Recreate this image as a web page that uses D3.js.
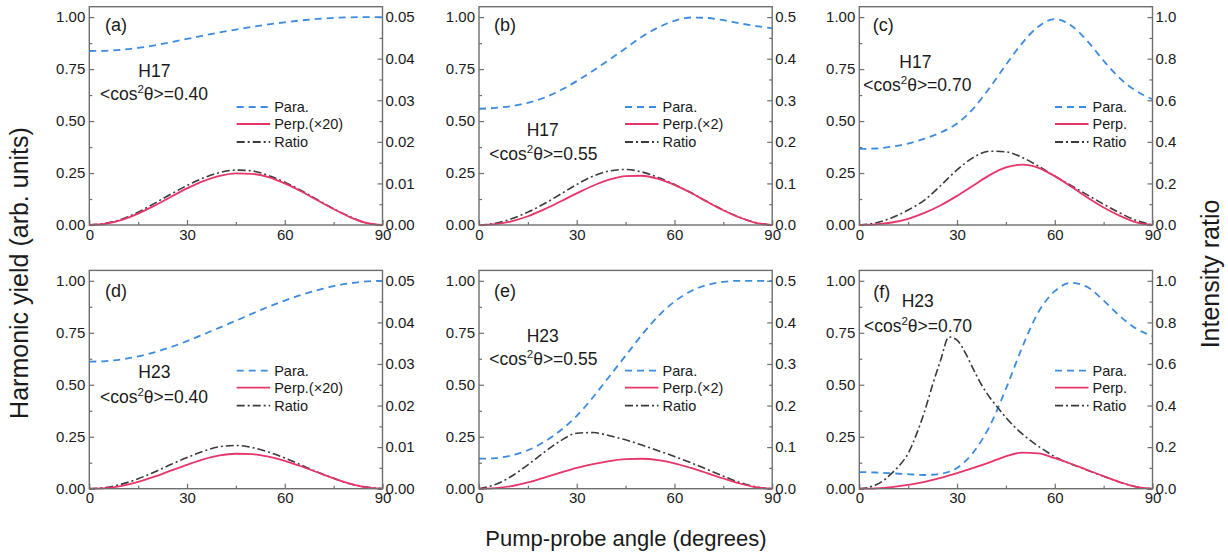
<!DOCTYPE html>
<html><head><meta charset="utf-8">
<script src="https://cdn.jsdelivr.net/npm/d3@7"></script>
<style>
body{margin:0;background:#fff}
svg{display:block}
text{font-family:"Liberation Sans",Arial,Helvetica,sans-serif;fill:#1a1a1a}
</style>
</head><body>
<svg id="chart" width="1228" height="554"></svg>
<script>
// ---------- data ----------
const angles = [0,5,10,15,20,25,30,35,40,45,50,55,60,65,70,75,80,85,90];
const anglesFine = [0,2.5,5,7.5,10,12.5,15,17.5,20,22.5,25,27.5,30,32.5,35,37.5,40,42.5,45,47.5,50,52.5,55,57.5,60,62.5,65,67.5,70,72.5,75,77.5,80,82.5,85,87.5,90];

const paraA  = [0.837,0.838,0.843,0.852,0.864,0.879,0.895,0.911,0.926,0.940,0.953,0.965,0.975,0.984,0.991,0.996,0.999,1.0,1.0];
const perpA  = [0,0.006,0.025,0.055,0.093,0.135,0.176,0.211,0.236,0.248,0.246,0.230,0.200,0.162,0.119,0.077,0.038,0.010,0];
const ratioA = [0,0.0004,0.0014,0.0031,0.0052,0.0074,0.0095,0.0113,0.0126,0.0132,0.0130,0.0119,0.0103,0.0083,0.0061,0.0039,0.0020,0.0005,0];

const paraB  = [0.559,0.563,0.572,0.588,0.612,0.648,0.692,0.742,0.795,0.850,0.905,0.950,0.982,0.998,0.996,0.985,0.970,0.957,0.946];
const perpB  = [0,0.004,0.018,0.042,0.075,0.113,0.152,0.189,0.218,0.235,0.237,0.222,0.193,0.155,0.112,0.071,0.036,0.010,0];
const ratioB = [0,0.004,0.015,0.031,0.051,0.074,0.0975,0.1175,0.130,0.1335,0.1275,0.114,0.0975,0.078,0.0565,0.036,0.0185,0.0055,0];

const paraC  = [0.366,0.368,0.377,0.392,0.415,0.445,0.488,0.56,0.66,0.77,0.875,0.955,0.99,0.96,0.885,0.79,0.705,0.645,0.605];
const perpC  = [0,0.003,0.012,0.03,0.058,0.095,0.14,0.19,0.24,0.277,0.29,0.275,0.235,0.185,0.132,0.084,0.044,0.013,0];
const ratioC = [0,0.01,0.035,0.072,0.12,0.19,0.265,0.325,0.355,0.352,0.325,0.283,0.235,0.19,0.145,0.10,0.058,0.022,0];

const paraD  = [0.611,0.614,0.622,0.636,0.656,0.681,0.71,0.742,0.775,0.808,0.842,0.875,0.905,0.932,0.955,0.974,0.988,0.997,1.0];
const perpD  = [0,0.003,0.014,0.033,0.058,0.087,0.115,0.141,0.16,0.168,0.166,0.154,0.134,0.108,0.079,0.05,0.024,0.006,0];
const ratioD = [0,0.0003,0.0011,0.0024,0.004,0.0058,0.0075,0.009,0.0101,0.0104,0.0099,0.0088,0.0074,0.0057,0.004,0.0025,0.0012,0.0004,0];

const paraE  = [0.144,0.147,0.16,0.185,0.225,0.28,0.35,0.44,0.54,0.64,0.74,0.83,0.9,0.95,0.98,0.995,1.0,1.0,1.0];
const perpE  = [0,0.003,0.012,0.03,0.053,0.077,0.1,0.118,0.133,0.142,0.144,0.137,0.122,0.1,0.075,0.049,0.025,0.007,0];
const ratioE = [0,0.01,0.03,0.0575,0.0875,0.115,0.1335,0.135,0.1275,0.1175,0.105,0.0915,0.0775,0.0625,0.0465,0.03,0.015,0.0045,0];

const paraF  = [0.08,0.078,0.074,0.07,0.066,0.072,0.1,0.175,0.3,0.48,0.68,0.85,0.95,0.99,0.97,0.905,0.83,0.77,0.735];
const perpF  = [0,0.002,0.008,0.018,0.033,0.052,0.075,0.1,0.127,0.156,0.174,0.17,0.147,0.12,0.09,0.06,0.031,0.009,0];
const ratioF = [0,0.005,0.018,0.04,0.075,0.115,0.17,0.26,0.37,0.5,0.62,0.73,0.715,0.655,0.575,0.5,0.44,0.39,0.342,0.3,0.264,0.232,0.204,0.178,0.154,0.135,0.119,0.104,0.089,0.074,0.06,0.045,0.031,0.019,0.009,0.003,0];

const panelLabels = ["(a)","(b)","(c)","(d)","(e)","(f)"];
const harmonics   = ["H17","H17","H17","H23","H23","H23"];
const alignments  = ["0.40","0.55","0.70","0.40","0.55","0.70"];
const perpNames   = ["Perp.(\u00d720)","Perp.(\u00d72)","Perp.","Perp.(\u00d720)","Perp.(\u00d72)","Perp."];
const xTicks      = [0,30,60,90];
const xMinorTicks = [15,45,75];
const leftTicks   = [0,0.25,0.5,0.75,1.0];
const leftMinor   = [0.125,0.375,0.625,0.875];
const rightMax    = [0.05,0.5,1.0,0.05,0.5,1.0];
const rightTicks  = [
  [0,0.01,0.02,0.03,0.04,0.05],[0,0.1,0.2,0.3,0.4,0.5],[0,0.2,0.4,0.6,0.8,1.0],
  [0,0.01,0.02,0.03,0.04,0.05],[0,0.1,0.2,0.3,0.4,0.5],[0,0.2,0.4,0.6,0.8,1.0]];
const rightFormats = [".2f",".1f",".1f",".2f",".1f",".1f"];
const paraSeries  = [paraA,paraB,paraC,paraD,paraE,paraF];
const perpSeries  = [perpA,perpB,perpC,perpD,perpE,perpF];
const ratioSeries = [ratioA,ratioB,ratioC,ratioD,ratioE,ratioF];
const ratioAngles = [angles,angles,angles,angles,angles,anglesFine];

// ---------- layout ----------
const colLeft = [89.3,479,859.3];
const plotW = 293.2;
const rowBase = [225,488.7];
const unitH = 207.9;
const yTop = 1.05;
const annot = [
  {lab:[15.7,-200], h:[49,-154.3], c:[10.7,-130.7], leg:147.4},
  {lab:[15,-200],   h:[47.7,-95],  c:[10.3,-70.7],  leg:146},
  {lab:[13.4,-200], h:[40,-163.3], c:[4,-140],      leg:195.7},
  {lab:[15.7,-198], h:[49,-116.4], c:[10.7,-92],    leg:147.4},
  {lab:[15,-198],   h:[47.7,-152.7],c:[10.3,-129.4],leg:146},
  {lab:[14,-197],   h:[42.4,-187.7],c:[4.7,-162.7], leg:195.7}
];
const colors = {para:"#3b8be0", perp:"#e6356a", ratio:"#3a3a3a", frame:"#6e6e6e"};
const dash = {para:"7,5", ratio:"8,3,2,3"};

const svg = d3.select("#chart");

for (let i = 0; i < 6; i++) {
  const col = i % 3, row = Math.floor(i / 3);
  const x0 = colLeft[col], y0 = rowBase[row];
  const h = unitH * yTop;
  const g = svg.append("g").attr("transform", `translate(${x0},${y0 - h})`);

  const x = d3.scaleLinear().domain([0,90]).range([0,plotW]);
  const y = d3.scaleLinear().domain([0,yTop]).range([h,0]);
  const yR = d3.scaleLinear().domain([0,rightMax[i]*yTop]).range([h,0]);

  const fs = 15;
  const styleAxis = sel => {
    sel.select(".domain").remove();
    sel.selectAll(".tick line").attr("stroke", colors.frame).attr("stroke-width",1.2);
    sel.selectAll(".tick text").attr("font-size", fs).attr("fill","#1a1a1a")
       .attr("font-family","'Liberation Sans',Arial,sans-serif");
  };
  g.append("g").attr("transform",`translate(0,${h})`)
    .call(d3.axisBottom(x).tickValues(xTicks).tickSize(-5).tickPadding(4).tickFormat(d3.format("d")))
    .call(styleAxis);
  g.append("g").attr("transform",`translate(0,${h})`)
    .call(d3.axisBottom(x).tickValues(xMinorTicks).tickSize(-3).tickFormat(""))
    .call(styleAxis);
  g.append("g")
    .call(d3.axisLeft(y).tickValues(leftTicks).tickSize(-5).tickPadding(4).tickFormat(d3.format(".2f")))
    .call(styleAxis);
  g.append("g")
    .call(d3.axisLeft(y).tickValues(leftMinor).tickSize(-3).tickFormat(""))
    .call(styleAxis);
  const rt = rightTicks[i];
  const rstep = rt[1]-rt[0];
  g.append("g").attr("transform",`translate(${plotW},0)`)
    .call(d3.axisRight(yR).tickValues(rt).tickSize(-5).tickPadding(3).tickFormat(d3.format(rightFormats[i])))
    .call(styleAxis);
  g.append("g").attr("transform",`translate(${plotW},0)`)
    .call(d3.axisRight(yR).tickValues(rt.slice(0,-1).map(v=>v+rstep/2)).tickSize(-3).tickFormat(""))
    .call(styleAxis);

  // lines
  const lineL = d3.line().x((d,k)=>x(angles[k])).y(d=>y(d)).curve(d3.curveMonotoneX);
  const lineR = d3.line().x(d=>x(d[0])).y(d=>yR(d[1])).curve(d3.curveMonotoneX);

  g.append("path").datum(paraSeries[i]).attr("d", lineL)
    .attr("fill","none").attr("stroke",colors.para).attr("stroke-width",1.8).attr("stroke-dasharray",dash.para);
  g.append("path").datum(ratioAngles[i].map((a,k)=>[a, ratioSeries[i][k]])).attr("d", lineR)
    .attr("fill","none").attr("stroke",colors.ratio).attr("stroke-width",1.6).attr("stroke-dasharray",dash.ratio);
  g.append("path").datum(perpSeries[i]).attr("d", lineL)
    .attr("fill","none").attr("stroke",colors.perp).attr("stroke-width",1.8);

  // frame
  g.append("rect").attr("x",0).attr("y",0).attr("width",plotW).attr("height",h)
    .attr("fill","none").attr("stroke",colors.frame).attr("stroke-width",1.4);

  // annotations
  const A = annot[i];
  const base = h;
  g.append("text").attr("x",A.lab[0]).attr("y",base + A.lab[1] + 6.5)
    .attr("font-size",18).text(panelLabels[i]);
  g.append("text").attr("x",A.h[0]).attr("y",base + A.h[1] + 6.2)
    .attr("font-size",17.5).text(harmonics[i]);
  const ct = g.append("text").attr("x",A.c[0]).attr("y",base + A.c[1] + 6.2).attr("font-size",17.5);
  ct.append("tspan").text("<cos");
  ct.append("tspan").attr("dy",-7).attr("font-size",11.5).text("2");
  ct.append("tspan").attr("dy",7).text("\u03b8>=" + alignments[i]);

  // legend
  const legRows = [-118,-101,-83];
  const names = ["Para.", perpNames[i], "Ratio"];
  const keys = ["para","perp","ratio"];
  keys.forEach((k,r) => {
    const ly = base + legRows[r];
    g.append("line").attr("x1",A.leg).attr("x2",A.leg+33.5).attr("y1",ly).attr("y2",ly)
      .attr("stroke",colors[k]).attr("stroke-width",1.8)
      .attr("stroke-dasharray", k==="para" ? dash.para : k==="ratio" ? dash.ratio : null);
    g.append("text").attr("x",A.leg+37.5).attr("y",ly+5).attr("font-size",14.5).text(names[r]);
  });
}

// axis titles
svg.append("text").attr("x",626).attr("y",546).attr("text-anchor","middle")
  .attr("font-size",22).text("Pump-probe angle (degrees)");
svg.append("text").attr("transform","translate(28,273) rotate(-90)").attr("text-anchor","middle")
  .attr("font-size",25).text("Harmonic yield (arb. units)");
svg.append("text").attr("transform","translate(1219,274) rotate(-90)").attr("text-anchor","middle")
  .attr("font-size",25).text("Intensity ratio");
</script>
</body></html>
